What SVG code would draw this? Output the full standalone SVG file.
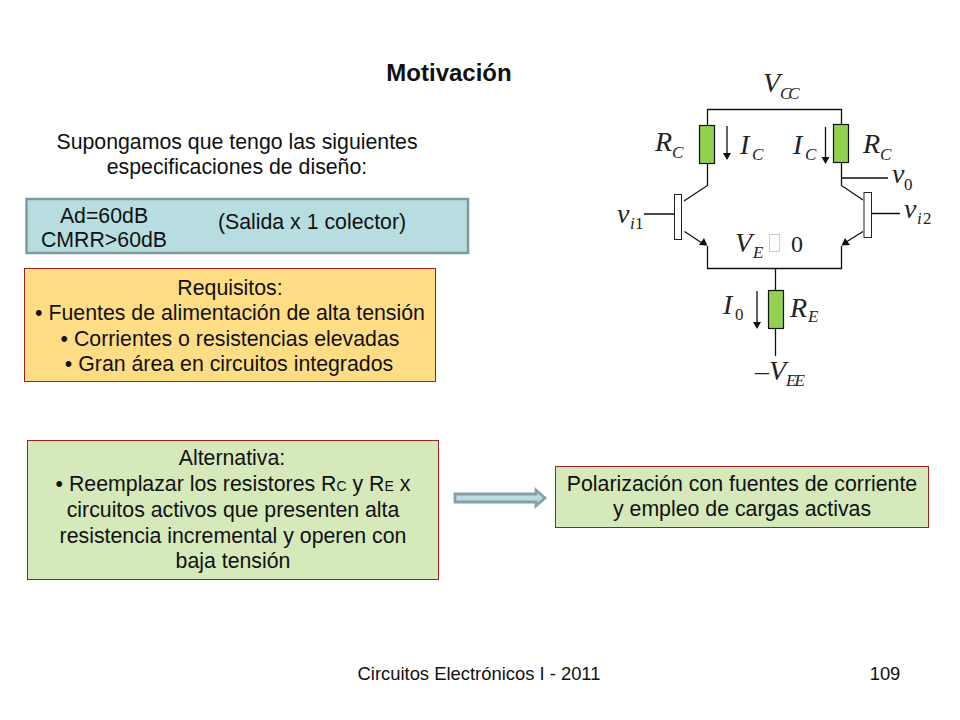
<svg xmlns="http://www.w3.org/2000/svg" width="960" height="720" viewBox="0 0 960 720">
<style>
text{font-family:"Liberation Sans",Arial,sans-serif;font-size:21.3px;fill:#111;text-anchor:middle}
.m{font-family:"Liberation Serif","Times New Roman",serif;font-style:italic;font-size:28px;text-anchor:start;fill:#222}
.s{font-family:"Liberation Serif","Times New Roman",serif;font-style:italic;font-size:17px;text-anchor:start;fill:#222}
.n{font-style:normal}
.f{font-size:18.400px}
.w{fill:none;stroke:#111;stroke-width:1.3}
.r{fill:#92d050;stroke:#111;stroke-width:1.2}
.b{fill:#fff;stroke:#222;stroke-width:1}
.h{fill:#111;stroke:none}
.box{stroke:#a02020;stroke-width:1}
</style>
<rect width="960" height="720" fill="#fff"/>
<text id="title" x="449" y="81" style="font-weight:bold;font-size:24px">Motivación</text>
<g id="intro"><text x="237" y="149">Supongamos que tengo las siguientes</text><text x="237" y="174">especificaciones de diseño:</text></g>
<g id="spec">
<rect x="26.500" y="199" width="441.500" height="54" fill="#b7dde1" stroke="#7f9a9e" stroke-width="2.500"/>
<text x="104" y="223">Ad=60dB</text><text x="104" y="247">CMRR&gt;60dB</text><text x="312" y="229">(Salida x 1 colector)</text>
</g>
<g id="requisitos">
<rect class="box" x="24.500" y="268.500" width="411" height="113" fill="#ffdd85"/>
<text x="230" y="295">Requisitos:</text>
<text x="230" y="320">• Fuentes de alimentación de alta tensión</text>
<text x="230" y="346">• Corrientes o resistencias elevadas</text>
<text x="229" y="371">• Gran área en circuitos integrados</text>
</g>
<g id="alternativa">
<rect class="box" x="27.500" y="440.500" width="411" height="139" fill="#d5e9bb"/>
<text x="232" y="465">Alternativa:</text>
<text x="233" y="491">• Reemplazar los resistores R<tspan font-size="14">C</tspan> y R<tspan font-size="14">E</tspan> x</text>
<text x="233" y="517">circuitos activos que presenten alta</text>
<text x="233" y="543">resistencia incremental y operen con</text>
<text x="233" y="568">baja tensión</text>
</g>
<g id="polarizacion">
<rect class="box" x="555.500" y="466.500" width="373" height="61" fill="#d5e9bb"/>
<text x="742" y="491">Polarización con fuentes de corriente</text>
<text x="742" y="516">y empleo de cargas activas</text>
</g>
<g id="connectors">
<path d="M455 494H536V490L545 498L536 506V502H455Z" fill="#b7dde1" stroke="#87a0a4" stroke-width="2.800"/>
</g>
<g id="circuit">
<path class="w" d="M707.500 125V109.500H841.500V124.500"/>
<path class="w" d="M707.500 163.500V185.500L684 201"/>
<path class="w" d="M841.500 162.500V185.500L863 200"/>
<path class="w" d="M644 214H674.500M872 213.500H900M842 178H888"/>
<path class="w" d="M684.500 231.500L705 245M863 231.500L843 244"/>
<path class="w" d="M707.500 246V268.500H841.500V246"/>
<path class="w" d="M775.500 268.500V290.500M775.500 328.500V356"/>
<path class="w" d="M727 126V154M825.500 127V158M757 291V323"/>
<path class="h" d="M723 153H731L727 160ZM821.500 157H829.500L825.500 164ZM753 322H761L757 329Z"/>
<path class="h" d="M707.500 245.500L699 245L704 238ZM841.500 245.500L850 245L845 238Z"/>
<rect class="r" x="699.500" y="125.500" width="15" height="38"/>
<rect class="r" x="833.500" y="124.500" width="15" height="38"/>
<rect class="r" x="768.500" y="290.500" width="15" height="38"/>
<rect class="b" x="674.500" y="194.500" width="7" height="45"/>
<rect class="b" x="864" y="192.500" width="7.500" height="45"/>
<rect x="769.500" y="234.500" width="10" height="17" fill="#fff" stroke="#ccc" stroke-width="1"/>
<text class="m" x="763" y="92">V</text><text class="s" x="780" y="99" style="letter-spacing:-3px">CC</text>
<text class="m" x="655" y="151">R</text><text class="s" x="672" y="158">C</text>
<text class="m" x="740" y="154">I</text><text class="s" x="752" y="160">C</text>
<text class="m" x="793" y="154">I</text><text class="s" x="805" y="160">C</text>
<text class="m" x="863" y="153">R</text><text class="s" x="880" y="160">C</text>
<text class="m" x="892" y="183">v</text><text class="s n" x="904" y="190">0</text>
<text class="m" x="617" y="223">v</text><text class="s" x="630" y="229">i</text><text class="s n" x="635" y="229">1</text>
<text class="m" x="904" y="218">v</text><text class="s" x="917" y="224">i</text><text class="s n" x="923" y="224">2</text>
<text class="m" x="735" y="252">V</text><text class="s" x="753" y="258">E</text>
<text class="m n" x="791" y="252" style="font-size:24px">0</text>
<text class="m" x="723" y="314">I</text><text class="s n" x="735" y="320">0</text>
<text class="m" x="790" y="317">R</text><text class="s" x="808" y="322">E</text>
<text class="m n" x="755" y="380">–</text><text class="m" x="769" y="380">V</text><text class="s" x="786" y="386" style="letter-spacing:-2px">EE</text>
</g>
<g id="footer"><text class="f" x="479" y="680">Circuitos Electrónicos I - 2011</text><text class="f" x="885" y="680">109</text></g>
</svg>
